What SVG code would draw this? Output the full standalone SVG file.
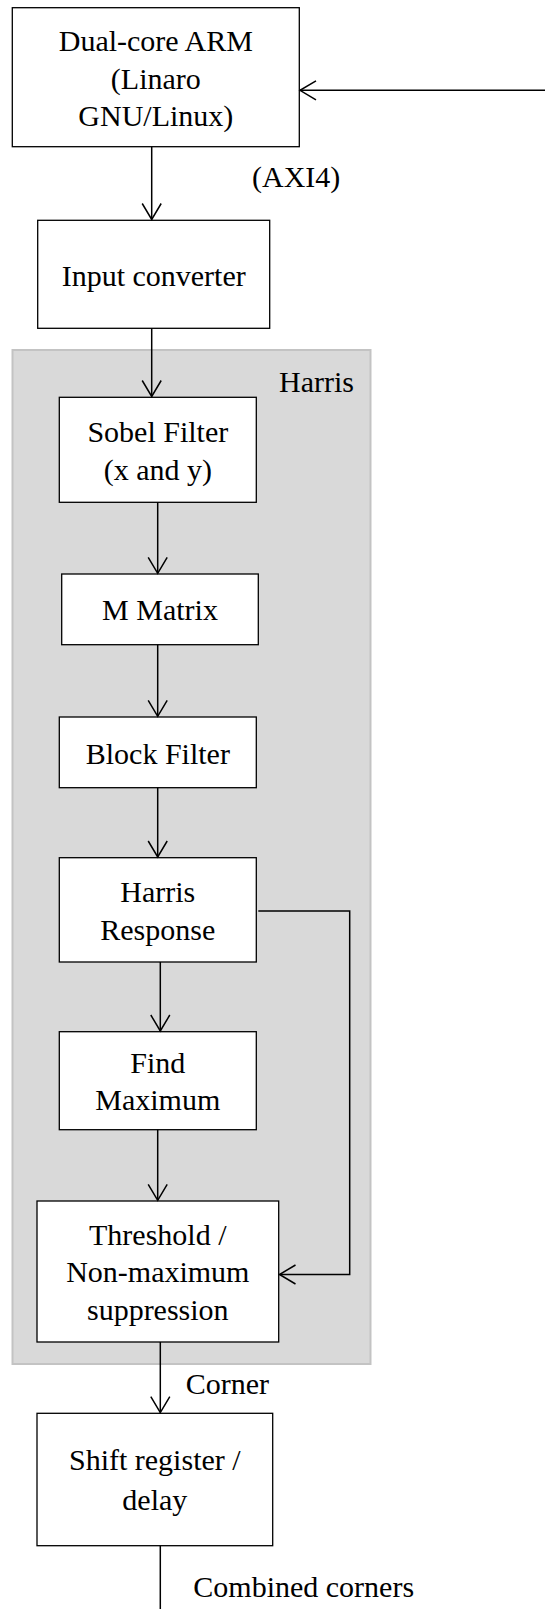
<svg xmlns="http://www.w3.org/2000/svg" width="545" height="1609" viewBox="0 0 545 1609">
<style>
.box{fill:#fff;stroke:#000;stroke-width:1.3}
.grp{fill:#d9d9d9;stroke:#c3c3c3;stroke-width:2}
text{font-family:"Liberation Serif","Times New Roman",serif;font-size:30px;fill:#000}
.c{text-anchor:middle}
.ln{fill:none;stroke:#000;stroke-width:1.5;marker-end:url(#ah)}
.ln2{fill:none;stroke:#000;stroke-width:1.5}
</style>
<defs>
<marker id="ah" markerUnits="userSpaceOnUse" markerWidth="22" markerHeight="24" viewBox="-19 -12 22 24" refX="0" refY="0" orient="auto">
<path d="M-16,-9.5 L0,0 L-16,9.5" fill="none" stroke="#000" stroke-width="1.5"/>
</marker>
</defs>
<g id="harris-group">
<rect class="grp" x="12.5" y="350" width="358" height="1014"/>
<text x="279" y="392">Harris</text>
</g>
<g id="arm">
<rect class="box" x="12.3" y="7.7" width="287" height="139"/>
<text class="c" x="155.8" y="51">Dual-core ARM</text>
<text class="c" x="155.8" y="88.5">(Linaro</text>
<text class="c" x="155.8" y="125.5">GNU/Linux)</text>
</g>
<g id="input-converter">
<rect class="box" x="37.7" y="220.3" width="232" height="108"/>
<text class="c" x="153.7" y="286">Input converter</text>
</g>
<g id="sobel">
<rect class="box" x="59.3" y="397.3" width="197" height="105"/>
<text class="c" x="157.8" y="442">Sobel Filter</text>
<text class="c" x="157.8" y="479.5">(x and y)</text>
</g>
<g id="m-matrix">
<rect class="box" x="61.7" y="574" width="196.6" height="70.7"/>
<text class="c" x="160" y="620">M Matrix</text>
</g>
<g id="block-filter">
<rect class="box" x="59.3" y="717" width="197" height="70.7"/>
<text class="c" x="157.8" y="763.5">Block Filter</text>
</g>
<g id="harris-response">
<rect class="box" x="59.3" y="857.7" width="197" height="104.3"/>
<text class="c" x="157.8" y="902">Harris</text>
<text class="c" x="157.8" y="939.5">Response</text>
</g>
<g id="find-maximum">
<rect class="box" x="59.3" y="1031.7" width="197" height="98"/>
<text class="c" x="157.8" y="1072.5">Find</text>
<text class="c" x="157.8" y="1110">Maximum</text>
</g>
<g id="threshold">
<rect class="box" x="37" y="1201" width="241.7" height="141"/>
<text class="c" x="157.8" y="1244.5">Threshold /</text>
<text class="c" x="157.8" y="1282">Non-maximum</text>
<text class="c" x="157.8" y="1320">suppression</text>
</g>
<g id="shift-register">
<rect class="box" x="37" y="1413.3" width="235.7" height="132.4"/>
<text class="c" x="154.8" y="1470">Shift register /</text>
<text class="c" x="154.8" y="1509.5">delay</text>
</g>
<g id="connectors">
<path class="ln" d="M545,90.3 H300"/>
<path class="ln" d="M151.7,146.7 V219.5"/>
<text x="252" y="187">(AXI4)</text>
<path class="ln" d="M151.7,328.3 V396.5"/>
<path class="ln" d="M157.7,502.3 V573.3"/>
<path class="ln" d="M157.7,644.7 V716.3"/>
<path class="ln" d="M157.7,787.7 V857"/>
<path class="ln" d="M160.3,962 V1031"/>
<path class="ln" d="M157.7,1129.7 V1200.3"/>
<path class="ln" d="M258.3,911 H349.7 V1274.5 H279.5"/>
<path class="ln" d="M160.3,1342 V1412.6"/>
<text x="185.7" y="1394">Corner</text>
<path class="ln2" d="M160.3,1545.7 V1609"/>
<text x="193.3" y="1597">Combined corners</text>
</g>
</svg>
